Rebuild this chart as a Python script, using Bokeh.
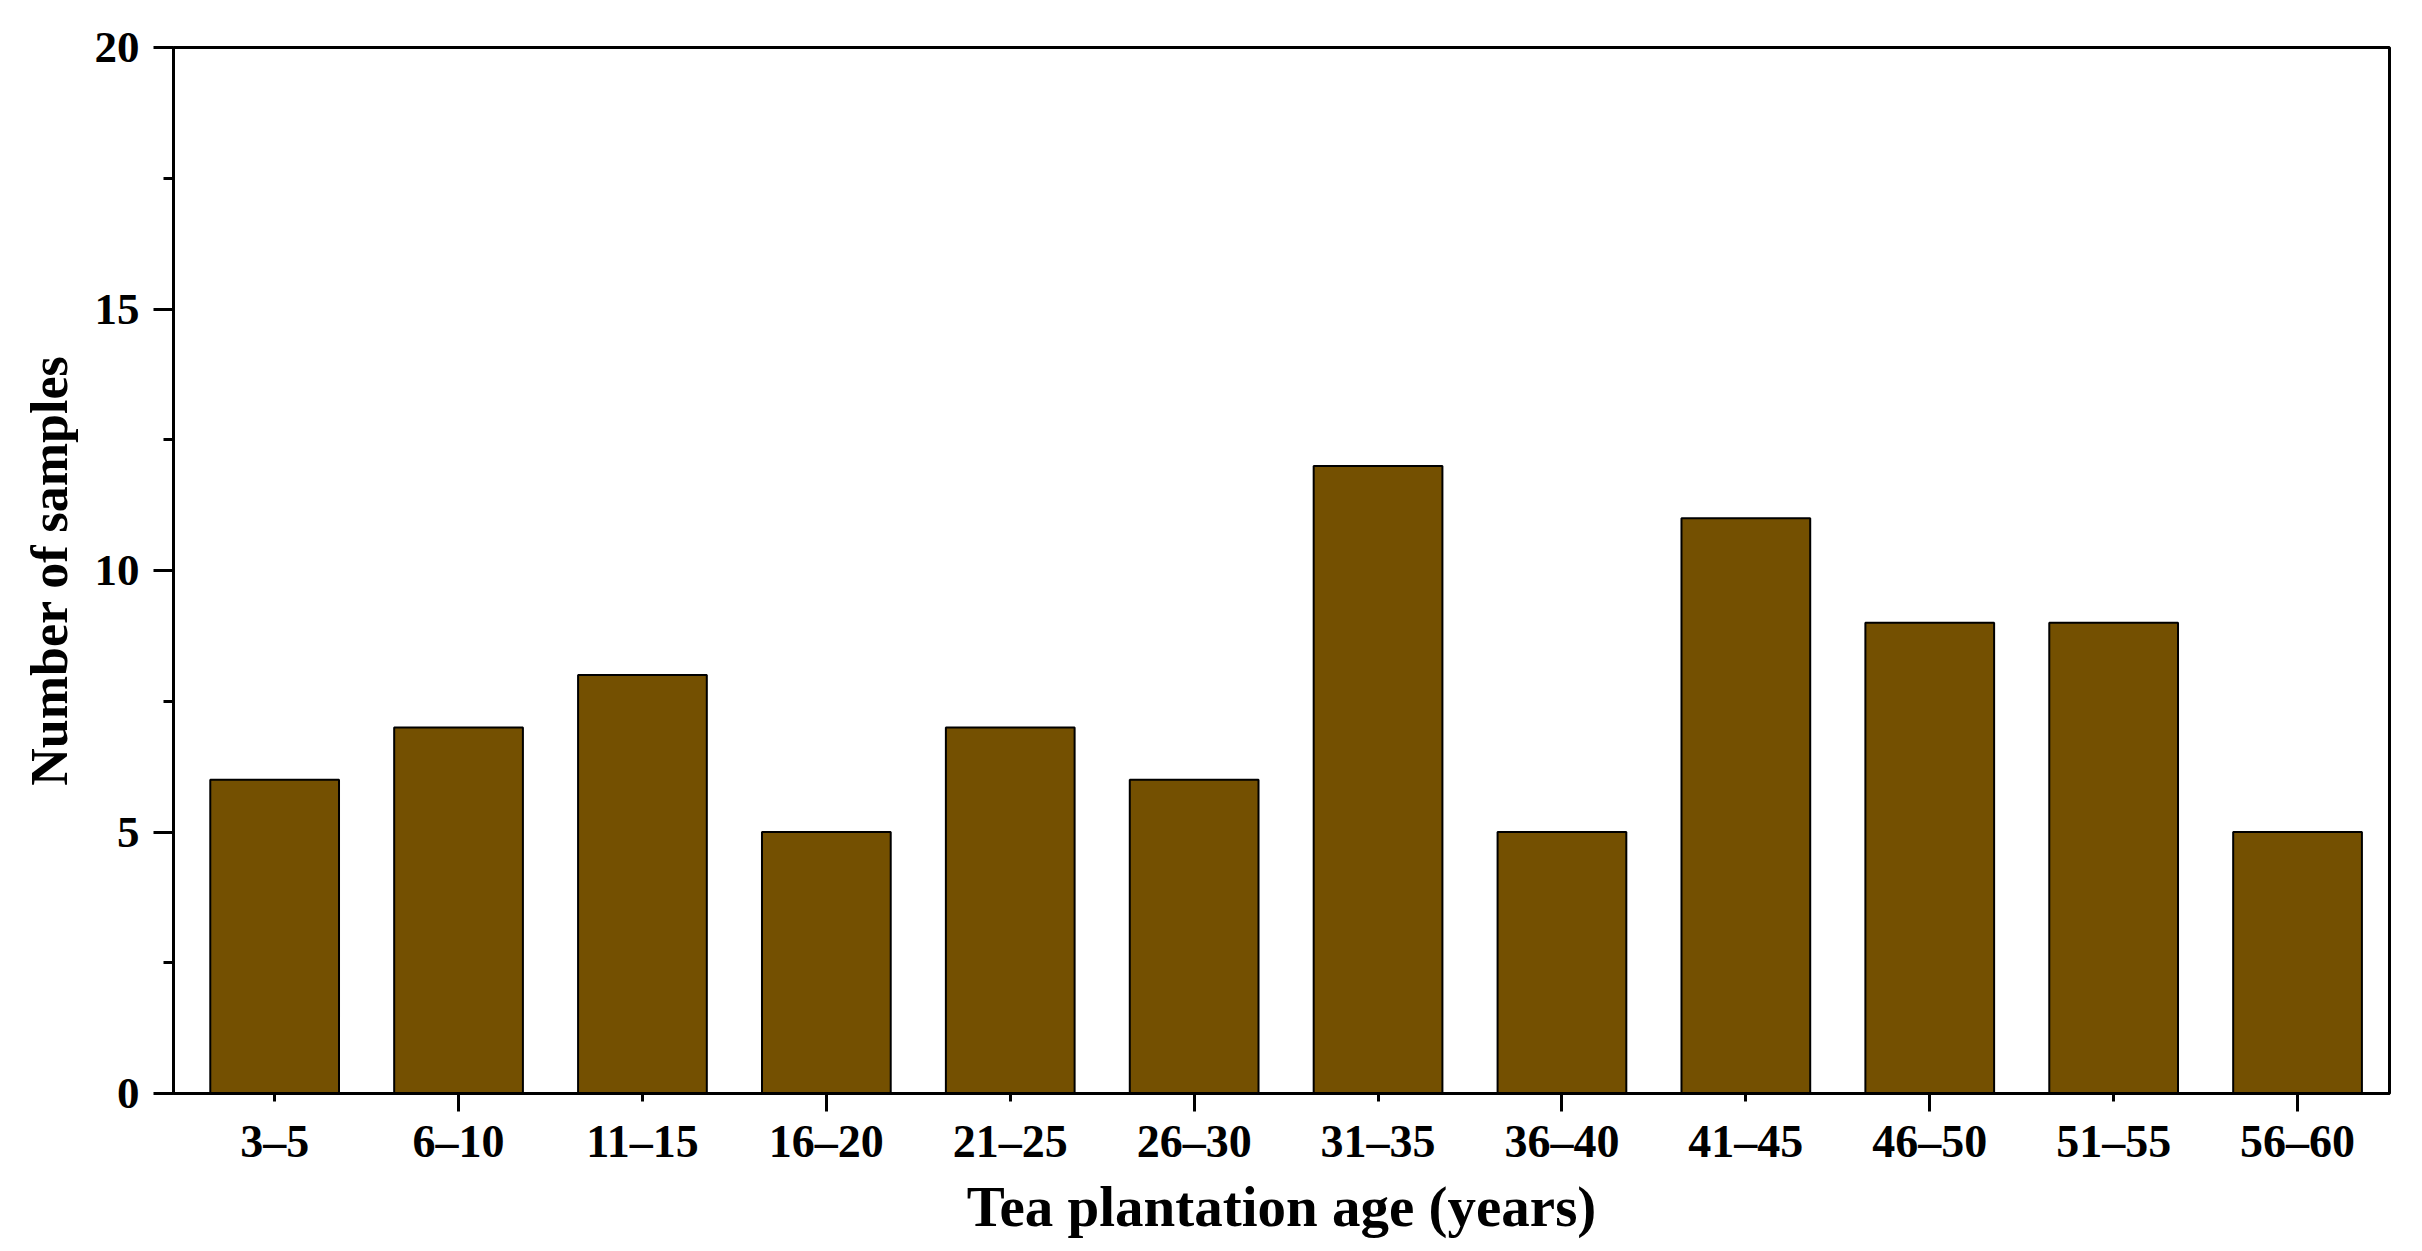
from bokeh.plotting import figure
from bokeh.models import ColumnDataSource, FixedTicker, Range1d
from bokeh.embed import file_html
from bokeh.resources import INLINE

# ---- data ----
categories = ["3–5", "6–10", "11–15", "16–20", "21–25", "26–30",
              "31–35", "36–40", "41–45", "46–50", "51–55", "56–60"]
counts = [6, 7, 8, 5, 7, 6, 12, 5, 11, 9, 9, 5]
y_ticks = [0, 5, 10, 15, 20]
y_minor_ticks = [2.5, 7.5, 12.5, 17.5]

positions = list(range(1, len(categories) + 1))
source = ColumnDataSource(dict(x=positions, top=counts, cat=categories))

FONT = "Liberation Serif"

p = figure(width=2406, height=1240, output_backend="svg", toolbar_location=None,
           x_range=Range1d(0.45, 12.5), y_range=Range1d(0, 20),
           min_border_left=173, min_border_right=17,
           min_border_top=47, min_border_bottom=146)

p.vbar(x="x", top="top", width=0.7, bottom=0, source=source,
       fill_color="#745001", line_color="black", line_width=2)

p.xgrid.visible = False
p.ygrid.visible = False
p.outline_line_color = "black"
p.outline_line_width = 3
p.background_fill_color = "white"
p.border_fill_color = "white"

# x axis
xa = p.xaxis[0]
xa.ticker = FixedTicker(ticks=positions, minor_ticks=positions[1::2])
xa.major_label_overrides = {pos: c for pos, c in zip(positions, categories)}
xa.axis_line_width = 3
xa.major_tick_line_width = 3
xa.minor_tick_line_width = 3
xa.major_tick_out = 8
xa.major_tick_in = 0
xa.minor_tick_out = 18
xa.minor_tick_in = 0
xa.major_label_standoff = 4
xa.major_label_text_font = FONT
xa.major_label_text_font_style = "bold"
xa.major_label_text_font_size = "46px"
xa.major_label_text_color = "black"
xa.axis_label = "Tea plantation age (years)"
xa.axis_label_text_font = FONT
xa.axis_label_text_font_style = "bold"
xa.axis_label_text_font_size = "57px"
xa.axis_label_text_color = "black"
xa.axis_label_standoff = 5

# y axis
ya = p.yaxis[0]
ya.ticker = FixedTicker(ticks=y_ticks, minor_ticks=y_minor_ticks)
ya.axis_line_width = 3
ya.major_tick_line_width = 3
ya.minor_tick_line_width = 3
ya.major_tick_out = 20
ya.major_tick_in = 0
ya.minor_tick_out = 10
ya.minor_tick_in = 0
ya.major_label_standoff = 14
ya.major_label_text_font = FONT
ya.major_label_text_font_style = "bold"
ya.major_label_text_font_size = "45px"
ya.major_label_text_color = "black"
ya.axis_label = "Number of samples"
ya.axis_label_text_font = FONT
ya.axis_label_text_font_style = "bold"
ya.axis_label_text_font_size = "52px"
ya.axis_label_text_color = "black"
ya.axis_label_standoff = 14

open("out.html", "w").write(file_html(p, INLINE))
